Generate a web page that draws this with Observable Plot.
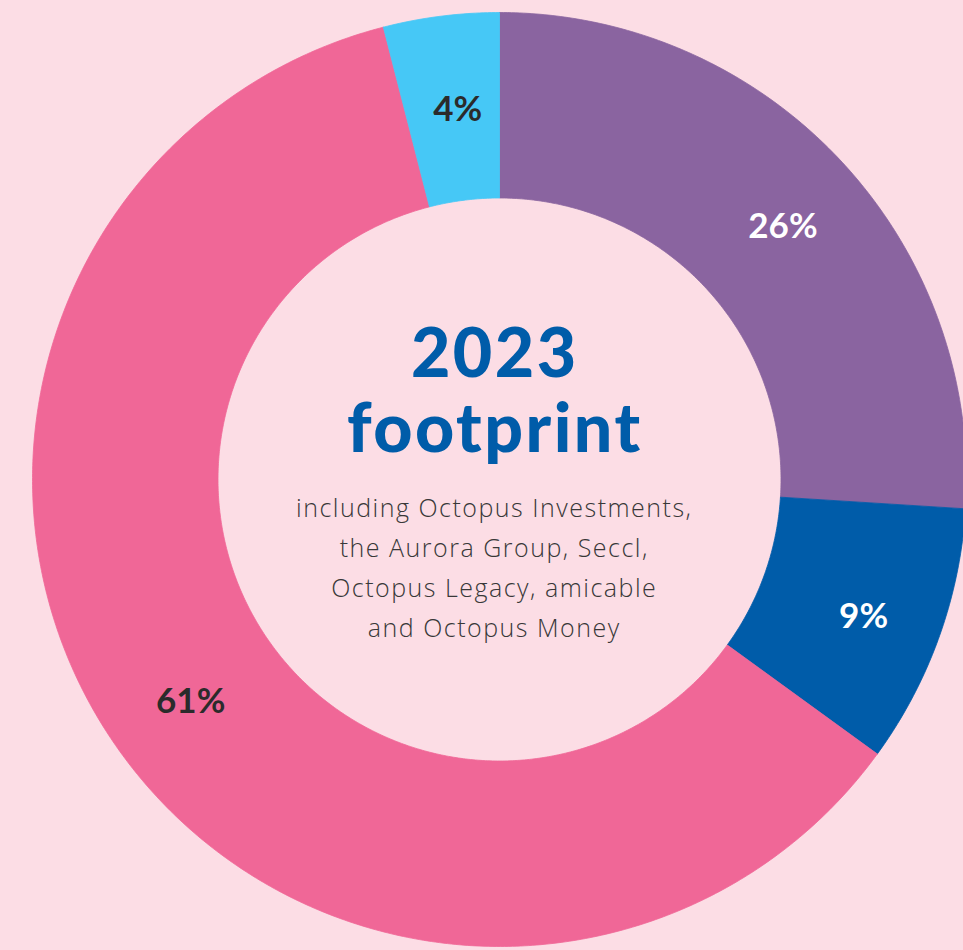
<!DOCTYPE html>
<html><head><meta charset="utf-8">
<script src="https://cdn.jsdelivr.net/npm/d3@7"></script>
<script src="https://cdn.jsdelivr.net/npm/@observablehq/plot@0.6"></script>
<style>
html,body{margin:0;padding:0;background:#fcdde5;}
#chart{width:963px;height:950px;overflow:hidden;}
</style>
</head><body><div id="chart"></div>
<script>
// ---- data ----
const segments = ["Segment A", "Segment B", "Segment C", "Segment D"];
const shares = [26, 9, 61, 4];
const shareLabels = ["26%", "9%", "61%", "4%"];
const segmentColors = ["#8a64a0", "#005ca9", "#f06797", "#46c8f6"];
const labelColors = ["#ffffff", "#ffffff", "#2b2b2b", "#2b2b2b"];
const titleLines = ["2023", "footprint"];
const subtitleLines = [
  "including Octopus Investments,",
  "the Aurora Group, Seccl,",
  "Octopus Legacy, amicable",
  "and Octopus Money"
];

// ---- layout ----
const W = 963, H = 950;
const cx = 499, cy = 479, R = 467, R0 = 281.5;
const inner = R0 / R;
const labelR = 0.815;
const px = v => v / R; // pixel distance -> unit distance

const pie = d3.pie().sort(null).value(d => d.value).startAngle(0).endAngle(2 * Math.PI);
const arcs = pie(segments.map((s, i) => ({segment: s, value: shares[i], label: shareLabels[i], lc: labelColors[i]})));

// polygon points of each slice (unit coordinates, angle measured clockwise from top)
const pts = [];
for (const a of arcs) {
  const n = Math.max(8, Math.ceil((a.endAngle - a.startAngle) / (Math.PI / 360)));
  const ring = [];
  for (let k = 0; k <= n; k++) {
    const t = a.startAngle + (a.endAngle - a.startAngle) * k / n;
    ring.push({segment: a.data.segment, x: Math.sin(t), y: Math.cos(t)});
  }
  for (let k = n; k >= 0; k--) {
    const t = a.startAngle + (a.endAngle - a.startAngle) * k / n;
    ring.push({segment: a.data.segment, x: inner * Math.sin(t), y: inner * Math.cos(t)});
  }
  ring.push(ring[0]);
  pts.push(...ring);
}

const labels = arcs.map(a => {
  const m = (a.startAngle + a.endAngle) / 2;
  return {label: a.data.label, color: a.data.lc, x: labelR * Math.sin(m), y: labelR * Math.cos(m)};
});

const titleBaselines = [376, 451];
const subBaselines = [516, 556, 596, 636];
const textDx = -6;

const chart = Plot.plot({
  width: W, height: H,
  margin: 0,
  style: {background: "#fcdde5", overflow: "hidden"},
  x: {domain: [-cx / R, (W - cx) / R], range: [0, W], axis: null},
  y: {domain: [-(H - cy) / R, cy / R], range: [H, 0], axis: null},
  color: {domain: segments, range: segmentColors},
  marks: [
    Plot.line(pts, {x: "x", y: "y", z: "segment", fill: "segment", stroke: "segment", strokeWidth: 0.8, curve: "linear"}),
    Plot.text(labels, {x: "x", y: "y", text: "label", fill: d => d.color, fontSize: 35, fontWeight: 700,
      dx: 6, dy: 8,
      fontFamily: "Lato, 'Noto Sans', sans-serif", textAnchor: "middle", lineAnchor: "middle"}),
    Plot.text(titleLines, {x: () => px(textDx), y: (d, i) => (cy - titleBaselines[i]) / R, text: d => d,
      fill: "#005ca9", fontSize: 68, fontWeight: 900, fontFamily: "Lato, 'Noto Sans', sans-serif",
      textAnchor: "middle", lineAnchor: "bottom"}),
    Plot.text(subtitleLines, {x: () => px(textDx), y: (d, i) => (cy - subBaselines[i]) / R, text: d => d,
      fill: "#383838", fontSize: 25, fontWeight: 300, fontFamily: "'Open Sans', Lato, sans-serif",
      textAnchor: "middle", lineAnchor: "bottom"})
  ]
});
// letter spacing (styling only): text groups in order = [labels, title, subtitle]
const textGroups = d3.select(chart).selectAll("g[aria-label='text']").nodes();
if (textGroups[1]) d3.select(textGroups[1]).style("letter-spacing", "2.5px").selectAll("text").attr("dx", "1.25");
if (textGroups[2]) d3.select(textGroups[2]).style("letter-spacing", "1.5px").selectAll("text").attr("dx", "0.75");
document.getElementById("chart").appendChild(chart);
</script>
</body></html>
